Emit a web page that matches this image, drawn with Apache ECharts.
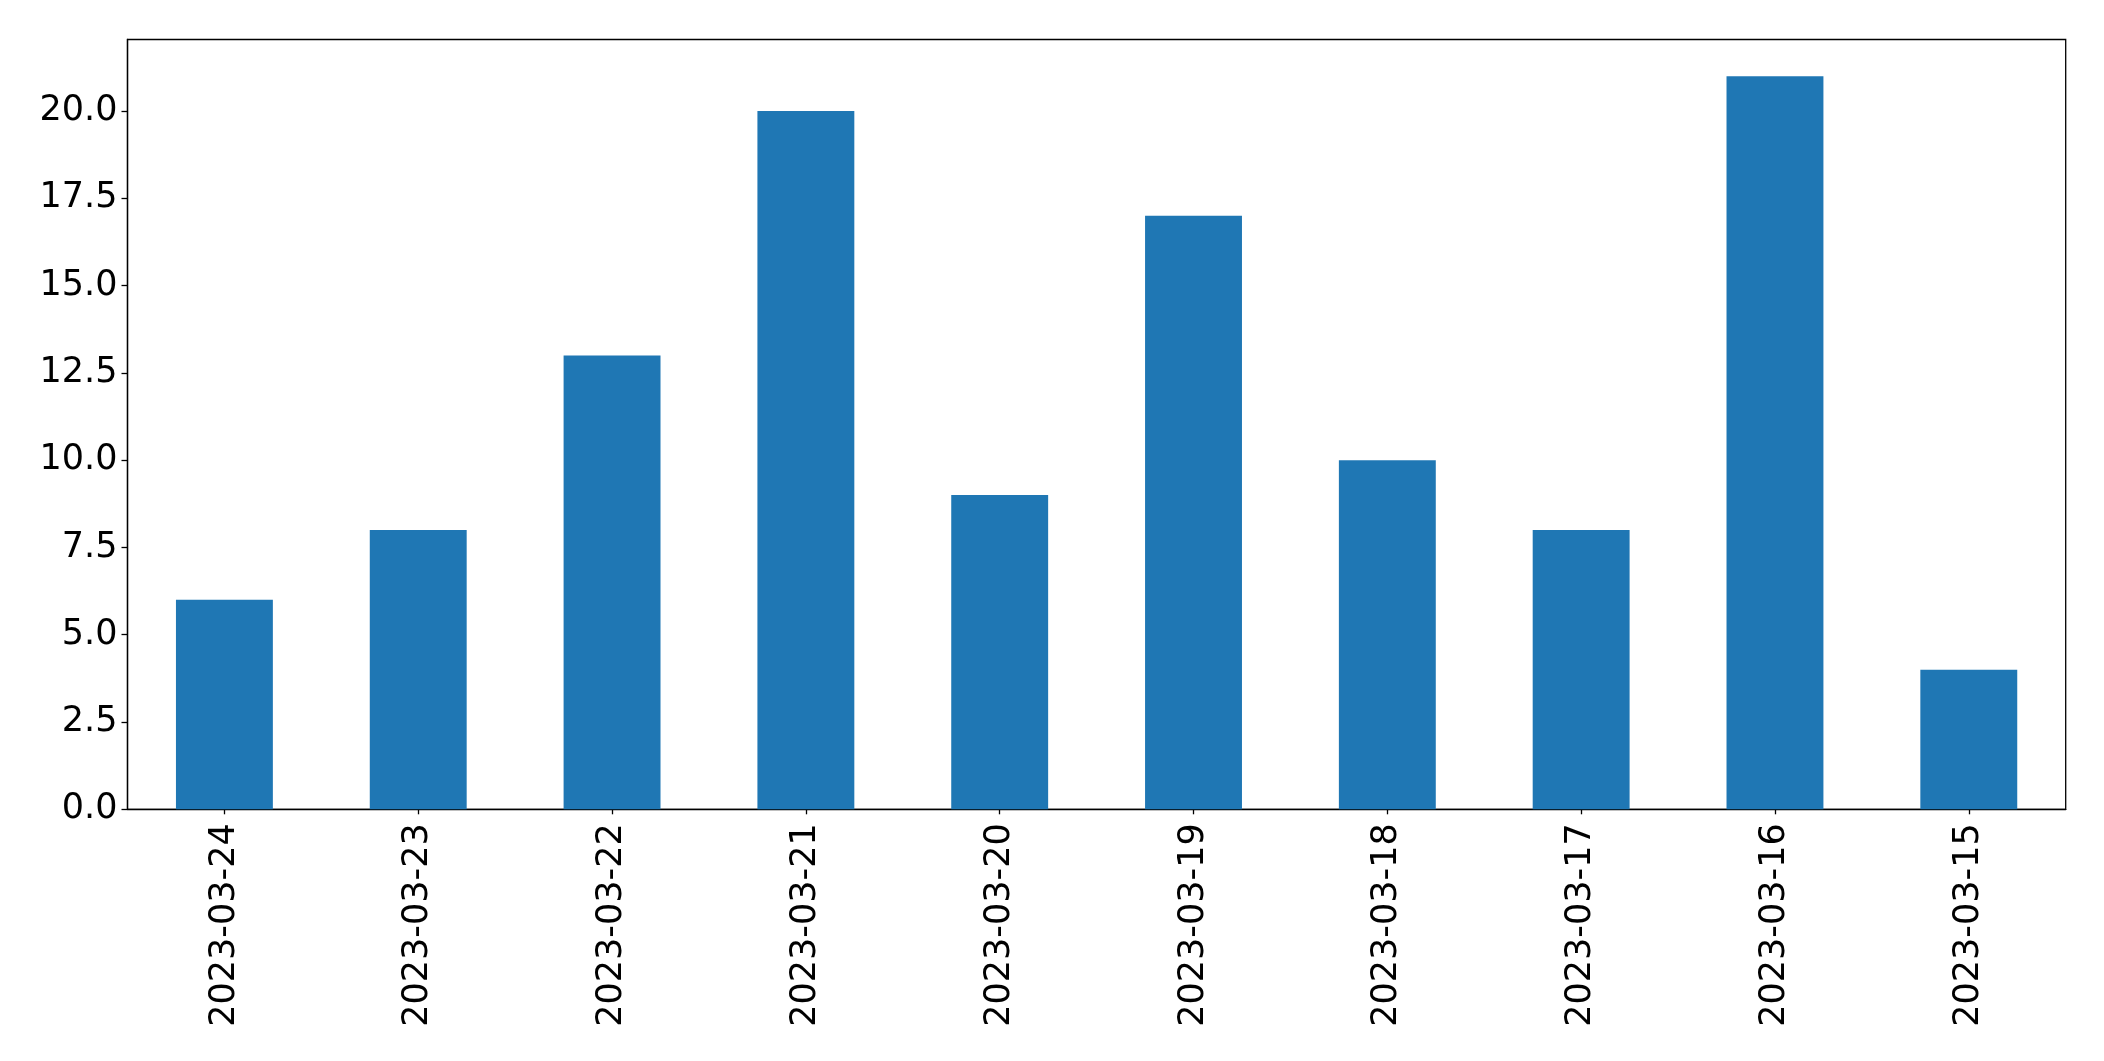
<!DOCTYPE html>
<html>
<head>
<meta charset="utf-8">
<script src="https://cdn.jsdelivr.net/npm/echarts@6/dist/echarts.min.js"></script>
<style>
html,body{margin:0;padding:0;background:#fff;}
#chart{width:2104px;height:1061px;}
</style>
</head>
<body>
<div id="chart"></div>
<script>
const categories = ["2023-03-24","2023-03-23","2023-03-22","2023-03-21","2023-03-20","2023-03-19","2023-03-18","2023-03-17","2023-03-16","2023-03-15"];
const values = [6, 8, 13, 20, 9, 17, 10, 8, 21, 4];
const yTicks = [0, 2.5, 5, 7.5, 10, 12.5, 15, 17.5, 20];

const chart = echarts.init(document.getElementById('chart'), null, {renderer: 'canvas'});
const font = 'DejaVu Sans';
chart.setOption({
  animation: false,
  backgroundColor: '#ffffff',
  grid: {
    left: 127.5, right: 38.3, top: 39.5, bottom: 251.7,
    show: true, borderColor: '#000', borderWidth: 1.3, backgroundColor: 'transparent'
  },
  xAxis: {
    type: 'category',
    data: categories,
    boundaryGap: true,
    axisLine: {show: true, lineStyle: {color: '#000', width: 1.3}},
    axisTick: {show: true, alignWithLabel: true, length: 5, lineStyle: {color: '#000', width: 1.3}},
    axisLabel: {rotate: 90, fontFamily: font, fontSize: 35, color: '#000', margin: 14, interval: 0},
    splitLine: {show: false}
  },
  yAxis: {
    type: 'value',
    min: 0,
    max: 22.05,
    axisLine: {show: true, lineStyle: {color: '#000', width: 1.3}},
    axisTick: {show: true, length: 6, customValues: yTicks, lineStyle: {color: '#000', width: 1.3}},
    axisLabel: {customValues: yTicks, fontFamily: font, fontSize: 35, color: '#000', margin: 10,
      formatter: v => Number(v).toFixed(1)},
    splitLine: {show: false}
  },
  series: [{
    type: 'bar',
    data: values,
    barWidth: '50%',
    itemStyle: {color: '#1f77b4'}
  }]
});
</script>
</body>
</html>
